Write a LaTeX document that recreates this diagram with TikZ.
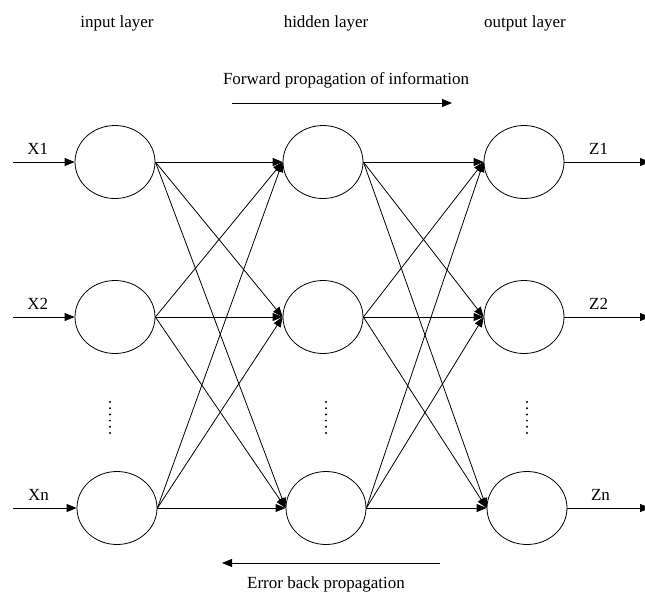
\documentclass[tikz,border=0pt]{standalone}
\usepackage{fontspec}
\setmainfont{Liberation Serif}
\usetikzlibrary{shapes.geometric, arrows.meta}

\begin{document}
\begin{tikzpicture}[
    x=1pt, y=-1pt,
    font=\fontsize{17}{20}\selectfont,
    neuron/.style={ellipse, draw, minimum width=80pt, minimum height=73pt, inner sep=0pt},
    link/.style={-{Triangle[length=10pt, width=8pt]}},
    dotcol/.style={line width=2.2pt, line cap=round, dash pattern=on 0pt off 6.2pt},
    line width=0.8pt
]
    \useasboundingbox (0,0) rectangle (645,592);

    % Layer titles
    \node (t_in)  at (117,23) {input layer};
    \node (t_hid) at (326,23) {hidden layer};
    \node (t_out) at (525,23) {output layer};

    % Neurons
    \node[neuron] (in1)  at (115,162) {};
    \node[neuron] (in2)  at (115,317) {};
    \node[neuron] (in3)  at (117,508) {};
    \node[neuron] (hid1) at (323,162) {};
    \node[neuron] (hid2) at (323,317) {};
    \node[neuron] (hid3) at (326,508) {};
    \node[neuron] (out1) at (524,162) {};
    \node[neuron] (out2) at (524,317) {};
    \node[neuron] (out3) at (527,508) {};

    % Inputs and outputs
    \coordinate (x1) at (13,162);
    \coordinate (x2) at (13,317);
    \coordinate (x3) at (13,508);
    \coordinate (z1) at (650,162);
    \coordinate (z2) at (650,317);
    \coordinate (z3) at (650,508);
    \draw[link] (x1) -- (in1.west) node[pos=0.4, above=4pt] {X1};
    \draw[link] (x2) -- (in2.west) node[pos=0.4, above=4pt] {X2};
    \draw[link] (x3) -- (in3.west) node[pos=0.4, above=4pt] {Xn};
    \draw[link] (out1.east) -- (z1) node[pos=0.4, above=4pt] {Z1};
    \draw[link] (out2.east) -- (z2) node[pos=0.4, above=4pt] {Z2};
    \draw[link] (out3.east) -- (z3) node[pos=0.4, above=4pt] {Zn};

    % Full connections
    \foreach \i in {1,2,3} {
        \foreach \j in {1,2,3} {
            \draw[link] (in\i.east) -- (hid\j.west);
            \draw[link] (hid\i.east) -- (out\j.west);
        }
    }

    % Omitted neurons
    \draw[dotcol] (110,402) -- (110,433);
    \draw[dotcol] (326,402) -- (326,433);
    \draw[dotcol] (527,402) -- (527,433);

    % Propagation directions
    \coordinate (fw_a) at (232,103);
    \coordinate (fw_b) at (452,103);
    \coordinate (bk_a) at (440,563);
    \coordinate (bk_b) at (222,563);
    \draw[link] (fw_a) -- (fw_b);
    \draw[link] (bk_a) -- (bk_b);
    \node (t_fw) at (346,80) {Forward propagation of information};
    \node (t_bk) at (326,584) {Error back propagation};

\end{tikzpicture}
\end{document}
